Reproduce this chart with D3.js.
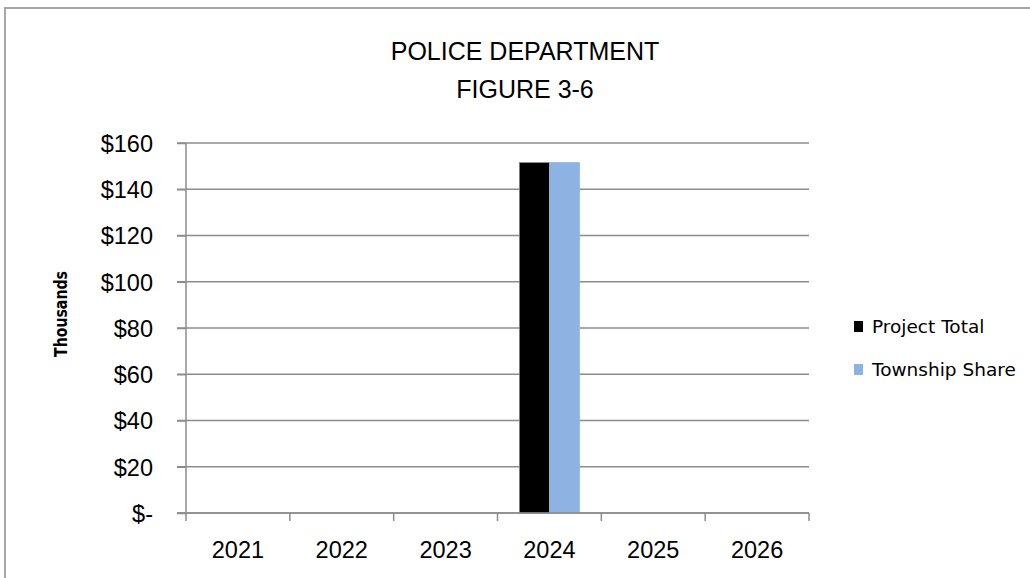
<!DOCTYPE html>
<html>
<head>
<meta charset="utf-8">
<script src="https://cdn.jsdelivr.net/npm/d3@7"></script>
<style>
  body { margin: 0; background: #fff; }
  text { font-family: "Liberation Sans", Arial, sans-serif; fill: #000; }
  .legend text { font-family: "DejaVu Sans", Verdana, sans-serif; }
</style>
</head>
<body>
<div id="chart"></div>
<script>
// chart data
var years = ["2021", "2022", "2023", "2024", "2025", "2026"];
var seriesNames = ["Project Total", "Township Share"];
var projectTotal = [0, 0, 0, 151.5, 0, 0];
var townshipShare = [0, 0, 0, 151.5, 0, 0];
var yTicks = [0, 20, 40, 60, 80, 100, 120, 140, 160];
var colors = ["#000000", "#8db3e2"];

var svgWidth = 1030;
var svgHeight = 578;

var margin = { top: 143, right: 221, bottom: 65, left: 186 };
var width = svgWidth - margin.left - margin.right;
var height = svgHeight - margin.top - margin.bottom;

var svg = d3.select("#chart")
  .append("svg")
  .attr("width", svgWidth)
  .attr("height", svgHeight);

// outer chart border (right and bottom are off the picture)
svg.append("path")
  .attr("d", "M5,578 L5,8 L1030,8")
  .attr("fill", "none")
  .attr("stroke", "#a6a6a6")
  .attr("stroke-width", 2);

// title
svg.append("text")
  .attr("x", 525)
  .attr("y", 60)
  .attr("text-anchor", "middle")
  .style("font-size", "25px")
  .text("POLICE DEPARTMENT");

svg.append("text")
  .attr("x", 525)
  .attr("y", 98)
  .attr("text-anchor", "middle")
  .style("font-size", "25px")
  .text("FIGURE 3-6");

var chartGroup = svg.append("g")
  .attr("transform", `translate(${margin.left}, ${margin.top})`);

var data = years.map(function(y, i) {
  return { year: y, values: [projectTotal[i], townshipShare[i]] };
});

// scales
var x0 = d3.scaleBand()
  .domain(years)
  .range([0, width])
  .padding(0);

var x1 = d3.scaleBand()
  .domain(d3.range(seriesNames.length))
  .range([0, x0.bandwidth()])
  .paddingInner(0)
  .paddingOuter(0.73);

var yScale = d3.scaleLinear()
  .domain([0, 160])
  .range([height, 0]);

// gridlines
chartGroup.append("g")
  .selectAll("line")
  .data(yTicks)
  .enter()
  .append("line")
  .attr("x1", -9)
  .attr("x2", width)
  .attr("y1", d => yScale(d))
  .attr("y2", d => yScale(d))
  .attr("stroke", "#8c8c8c")
  .attr("stroke-width", 1.5);

// bars
var groups = chartGroup.selectAll(".year")
  .data(data)
  .enter()
  .append("g")
  .attr("class", "year")
  .attr("transform", d => `translate(${x0(d.year)}, 0)`);

groups.selectAll("rect")
  .data(d => d.values.filter(v => v > 0).length ? d.values.map((v, i) => ({ v: v, i: i })) : [])
  .enter()
  .append("rect")
  .attr("x", d => x1(d.i))
  .attr("width", x1.bandwidth())
  .attr("y", d => yScale(d.v))
  .attr("height", d => height - yScale(d.v))
  .attr("fill", d => colors[d.i])
  .attr("stroke", d => d.i === 0 ? "#7f7f7f" : "#8db3e2")
  .attr("stroke-width", 0.8);

// y axis
var leftAxis = d3.axisLeft(yScale)
  .tickValues(yTicks)
  .tickSize(9)
  .tickPadding(24)
  .tickFormat(d => d === 0 ? "$-" : "$" + d);

var yAxisG = chartGroup.append("g").call(leftAxis);
yAxisG.select(".domain").attr("stroke", "#8c8c8c").attr("stroke-width", 1.5).attr("d", `M0,${height}V0`);
yAxisG.selectAll(".tick line").attr("stroke", "#8c8c8c").attr("stroke-width", 1.5);
yAxisG.selectAll(".tick text")
  .style("font-size", "23.5px")
  .style("font-family", "'Liberation Sans', Arial, sans-serif")
  .attr("fill", "#000")
  .attr("dy", "0.36em");

// x axis: ticks on band boundaries
var boundaries = years.map(y => x0(y)).concat([width]);

var xAxisG = chartGroup.append("g")
  .attr("transform", `translate(0, ${height})`);

xAxisG.append("line")
  .attr("x1", -9)
  .attr("x2", width)
  .attr("stroke", "#8c8c8c")
  .attr("stroke-width", 1.5);

xAxisG.selectAll(".xtick")
  .data(boundaries)
  .enter()
  .append("line")
  .attr("class", "xtick")
  .attr("x1", d => d)
  .attr("x2", d => d)
  .attr("y1", 0)
  .attr("y2", 8)
  .attr("stroke", "#8c8c8c")
  .attr("stroke-width", 1.5);

xAxisG.selectAll(".xlabel")
  .data(years)
  .enter()
  .append("text")
  .attr("class", "xlabel")
  .attr("x", d => x0(d) + x0.bandwidth() / 2)
  .attr("y", 45)
  .attr("text-anchor", "middle")
  .style("font-size", "23.5px")
  .text(d => d);

// y axis title
svg.append("text")
  .attr("transform", "translate(67, 314) rotate(-90)")
  .attr("text-anchor", "middle")
  .style("font-size", "17.5px")
  .style("font-weight", "bold")
  .style("font-family", "'DejaVu Sans', sans-serif")
  .attr("textLength", 86)
  .attr("lengthAdjust", "spacingAndGlyphs")
  .text("Thousands");

// legend
var legend = svg.append("g").attr("class", "legend");

var legendItems = legend.selectAll("g")
  .data(seriesNames)
  .enter()
  .append("g")
  .attr("transform", (d, i) => `translate(854, ${321 + i * 43})`);

legendItems.append("rect")
  .attr("width", 9)
  .attr("height", 11)
  .attr("fill", (d, i) => colors[i]);

legendItems.append("text")
  .attr("x", 18)
  .attr("y", 12)
  .style("font-size", "18.5px")
  .text(d => d);
</script>
</body>
</html>
